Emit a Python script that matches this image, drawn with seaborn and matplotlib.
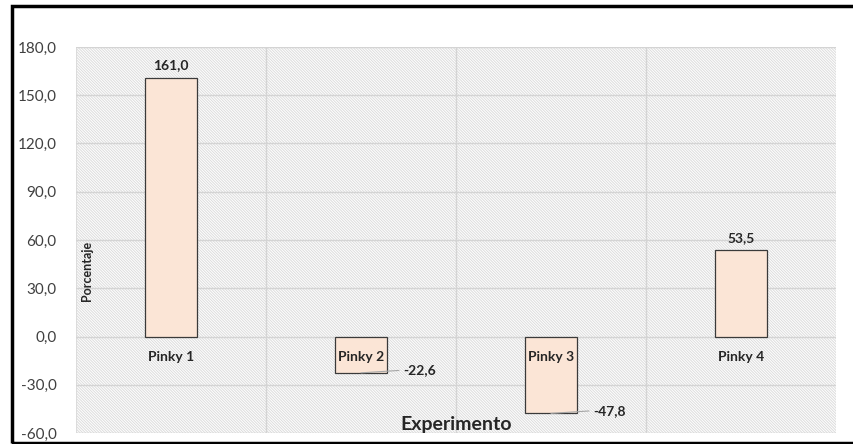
import matplotlib
matplotlib.use("Agg")
import matplotlib.pyplot as plt
import seaborn as sns
import pandas as pd
from matplotlib.patches import Rectangle
from matplotlib.ticker import FuncFormatter

# ================= Data =================
experimentos = ["Pinky 1", "Pinky 2", "Pinky 3", "Pinky 4"]
porcentaje = [161.0, -22.6, -47.8, 53.5]
y_ticks = [-60, -30, 0, 30, 60, 90, 120, 150, 180]

df = pd.DataFrame({"Experimento": experimentos, "Porcentaje": porcentaje})

sns.set_style("white")
plt.rcParams["font.family"] = ["Lato", "DejaVu Sans"]
plt.rcParams["hatch.color"] = "#dcdcdc"
plt.rcParams["hatch.linewidth"] = 0.7

fig = plt.figure(figsize=(8.54, 4.44), dpi=100)
ax = fig.add_axes([76 / 854, 1 - 433 / 444, (836 - 76) / 854, (433 - 47) / 444])

# hatched background
ax.patch.set_facecolor("white")
ax.add_patch(Rectangle((0, 0), 1, 1, transform=ax.transAxes, facecolor="white",
                       edgecolor="#dcdcdc", hatch="\\" * 12, lw=0.8, zorder=0))

sns.barplot(data=df, x="Experimento", y="Porcentaje", color="#fbe5d6",
            edgecolor="#3a3a3a", linewidth=0.9, width=0.27, saturation=1, ax=ax, zorder=3)

ax.set_ylim(-60, 180)
ax.set_xlim(-0.5, 3.5)
ax.set_yticks(y_ticks)
ax.yaxis.set_major_formatter(FuncFormatter(lambda v, p: f"{v:.1f}".replace(".", ",")))
ax.tick_params(axis="y", labelsize=11, colors="#404040", length=0, pad=14)
ax.set_xticks([])
for v in y_ticks:
    ax.axhline(v, color="#d4d4d4", lw=1, zorder=1)
for b in [0.5, 1.5, 2.5]:
    ax.axvline(b, color="#d4d4d4", lw=1, zorder=1)
for s in ax.spines.values():
    s.set_visible(False)

ax.set_xlabel("")
ax.set_ylabel("")

# category labels inside the plot
for i, name in enumerate(experimentos):
    ax.text(i, -13, name, ha="center", va="center", fontsize=10,
            fontweight="bold", color="#262626", zorder=5)

# data labels
for i, v in enumerate(porcentaje):
    lab = f"{v:.1f}".replace(".", ",")
    if v >= 0:
        ax.text(i, v + 8, lab, ha="center", va="center", fontsize=10,
                fontweight="bold", color="#262626", zorder=5)
    else:
        ax.plot([i, i + 0.2], [v, v + 1.5], color="#a6a6a6", lw=0.8, zorder=5)
        ax.text(i + 0.22, v + 1.5, lab, ha="left", va="center", fontsize=10,
                fontweight="bold", color="#262626", zorder=5)

ax.text(0.5, 0.0, "Experimento", transform=ax.transAxes, ha="center", va="bottom",
        fontsize=14, fontweight="bold", color="#262626", zorder=5)
ax.text(0.006, 0.42, "Porcentaje", transform=ax.transAxes, ha="left", va="center",
        rotation=90, fontsize=9, fontweight="bold", color="#262626", zorder=5)

# outer border
fig.patches.append(Rectangle((12 / 854, 1.5 / 444), 1.2, 1 - 7.5 / 444, transform=fig.transFigure,
                             fill=False, edgecolor="black", lw=2.5))

fig.savefig("out.png", dpi=100)
